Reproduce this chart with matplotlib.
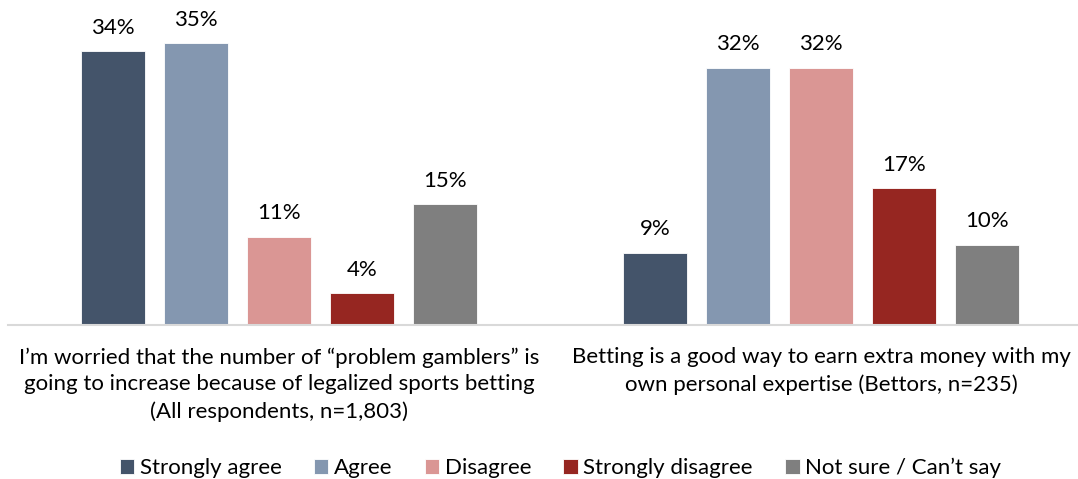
import numpy as np
import matplotlib.pyplot as plt

plt.rcParams['font.family'] = ['Lato', 'DejaVu Sans']

statements = [
    'I\u2019m worried that the number of \u201cproblem gamblers\u201d is\ngoing to increase because of legalized sports betting\n(All respondents, n=1,803)',
    'Betting is a good way to earn extra money with my\nown personal expertise (Bettors, n=235)',
]
responses = ['Strongly agree', 'Agree', 'Disagree', 'Strongly disagree', 'Not sure / Can\u2019t say']
strongly_agree = [34, 9]
agree = [35, 32]
disagree = [11, 32]
strongly_disagree = [4, 17]
not_sure = [15, 10]

series = [strongly_agree, agree, disagree, strongly_disagree, not_sure]
colors = ['#44546A', '#8497B0', '#DA9694', '#962621', '#7F7F7F']

fig = plt.figure(figsize=(10.78, 4.79), dpi=100)
ax = fig.add_axes([8 / 1078, 1 - 325 / 479, 1 - 8 / 1078, 325 / 479])

x = np.arange(len(statements))
width = 0.118
step = 0.153
for i, (vals, col, name) in enumerate(zip(series, colors, responses)):
    pos = x + (i - 2) * step
    bars = ax.bar(pos, vals, width, color=col, label=name, edgecolor='white', linewidth=0.6)
    for b, v in zip(bars, vals):
        ax.annotate(f'{v}%', (b.get_x() + b.get_width() / 2, v), xytext=(0, 9.5),
                    textcoords='offset points', ha='center', va='bottom', fontsize=16)

ax.set_xlim(-0.5, 1.474)
ax.set_ylim(0, 40.4)
ax.set_yticks([])
ax.set_xticks(x)
ax.set_xticklabels(statements, fontsize=16, linespacing=1.42)
ax.tick_params(axis='x', length=0, pad=16)
for s in ['top', 'right', 'left']:
    ax.spines[s].set_visible(False)
ax.spines['bottom'].set_color('#D9D9D9')
ax.spines['bottom'].set_linewidth(1.5)

fig.legend(loc='lower center', bbox_to_anchor=(0.52, -0.04), ncol=5, frameon=False,
           fontsize=16, handlelength=0.65, handleheight=0.65, handletextpad=0.25,
           columnspacing=1.45)

fig.savefig('out.png', dpi=100)
